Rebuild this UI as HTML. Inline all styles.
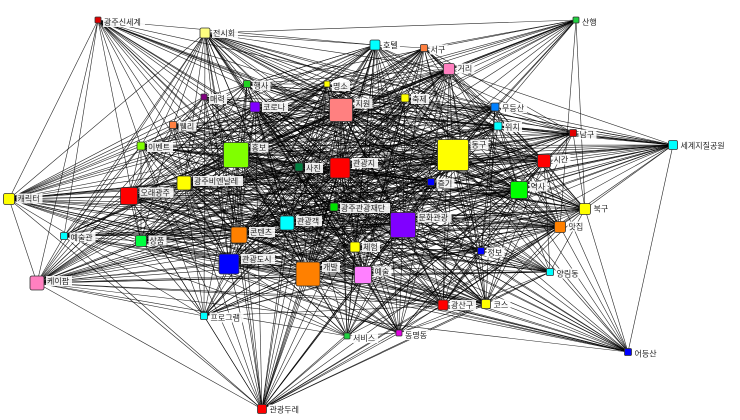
<!DOCTYPE html>
<html><head><meta charset="utf-8"><style>
html,body{margin:0;padding:0;background:#fff;width:740px;height:420px;overflow:hidden}
svg{display:block}
text{font-family:"Liberation Sans","Noto Sans CJK KR",sans-serif;font-size:8px;fill:#222}
</style></head><body>
<svg id="g" width="740" height="420" xmlns="http://www.w3.org/2000/svg">
<g id="edges" stroke="#000" stroke-width="0.6" stroke-opacity="0.85"></g>
<g id="nodes"></g>
<g id="labels"></g>
</svg>
<script>
var N=[
["광주신세계",98,20,5,"#e00000"],["전시회",205,33,9,"#ffff80"],["호텔",375,45,9,"#00ffff"],
["서구",424,48,6,"#ff8040"],["산행",576,20,5,"#20d040"],["거리",449,69,10,"#ff80c0"],
["행사",247,84,6,"#20d020"],["명소",327,84,4,"#ffff00"],["지원",341,110,22,"#ff8080"],
["축제",405,98,7,"#ffff00"],["매력",204,97,5,"#800080"],["코로나",255,107,9,"#8000ff"],
["무등산",495,107,7,"#0080ff"],["위치",498,126,7,"#00ffff"],["남구",573,133,6,"#e00000"],
["세계지질공원",673,145,8,"#00ffff"],["웰리",173,125,6,"#ff8040"],["이벤트",141,146,7,"#80ff00"],
["홍보",236,155,24,"#80ff00"],["동구",453,155,30,"#ffff00"],["사진",299,167,7,"#008040"],
["관광지",340,168,19,"#ff0000"],["시간",544,161,12,"#ff0000"],["광주비엔날레",184,183,13,"#ffff00"],
["즐기",431,182,6,"#0000ff"],["역사",519,190,16,"#00ff00"],["캐릭터",9,199,10,"#ffff00"],
["오래광주",129,196,16,"#ff0000"],["광주관광재단",334,207,7,"#00e000"],["북구",585,209,10,"#ffff00"],
["관광객",287,223,13,"#00ffff"],["문화관광",403,225,24,"#8000ff"],["콘텐츠",239,235,15,"#ff8000"],
["예술관",64,236,6,"#00ffff"],["상품",141,241,10,"#00ff40"],["맛집",560,227,10,"#ff8000"],
["체험",355,247,9,"#ffff00"],["정보",481,251,6,"#0000ff"],["관광도시",229,264,19,"#0000ff"],
["개발",308,274,23,"#ff8000"],["예술",363,275,16,"#ff80ff"],["케이팝",37,283,13,"#ff80c0"],
["양림동",550,272,6,"#00ffff"],["광산구",443,305,9,"#ff0000"],["코스",486,304,8,"#ffff00"],
["프로그램",204,316,6,"#00ffff"],["서비스",347,336,4,"#20d040"],["동명동",399,333,4,"#e000e0"],
["어등산",628,352,6,"#0000ff"],["관광두레",262,409,8,"#ff0000"]];
var seed=12345;function rnd(){seed=(seed*1103515245+12345)%2147483648;return seed/2147483648;}
var E=document.getElementById("edges"),NG=document.getElementById("nodes"),L=document.getElementById("labels"),ns="http://www.w3.org/2000/svg";
function el(t,a,p){var e=document.createElementNS(ns,t);for(var k in a)e.setAttribute(k,a[k]);p.appendChild(e);return e;}
for(var i=0;i<N.length;i++)for(var j=i+1;j<N.length;j++){
 var a=N[i],b=N[j];var p=Math.min(1,0.1+(a[3]+b[3])/30);
 if(a[3]<=6&&b[3]<=6)p*=0.4;
 if(rnd()<p)el("line",{x1:a[1],y1:a[2],x2:b[1],y2:b[2]},E);
}
N.forEach(function(n){var s=Math.max(3,n[3]/2+0.5);
 el("rect",{x:n[1]-s,y:n[2]-s,width:2*s,height:2*s,rx:Math.min(2,s/3),fill:n[4],stroke:"#333","stroke-width":0.8},NG);
 var tx=n[1]+s+3,ty=n[2]-s+8;var w=n[0].length*8+2;
 el("rect",{x:tx-1,y:ty-8,width:w,height:10,fill:"#fff","fill-opacity":0.9},L);
 var t=el("text",{x:tx,y:ty},L);t.textContent=n[0];
});
</script>
</body></html>
